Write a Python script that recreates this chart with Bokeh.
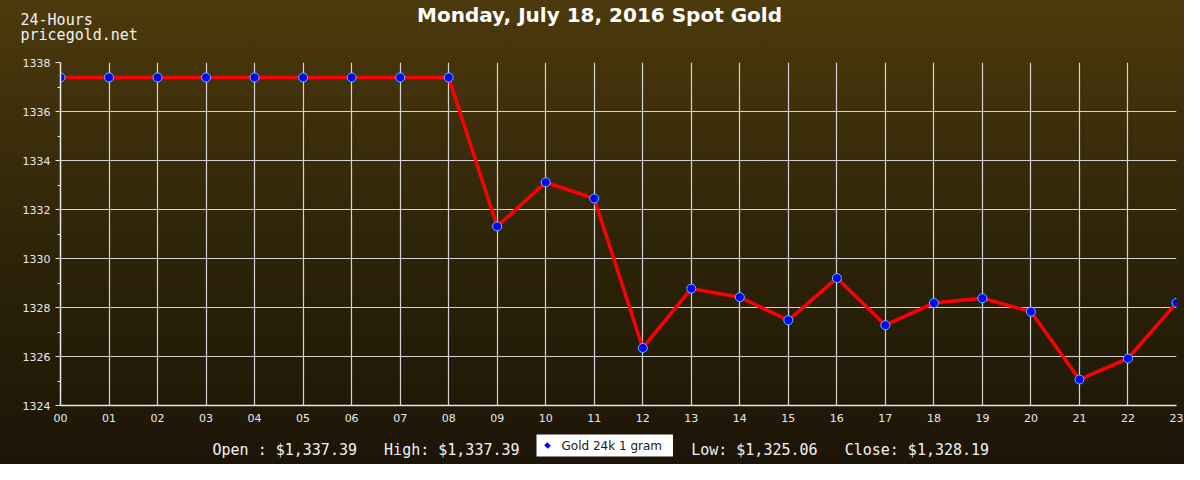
from bokeh.plotting import figure
from bokeh.models import Label, ColumnDataSource, FixedTicker
from bokeh.embed import file_html
from bokeh.resources import INLINE

hours = list(range(24))
hour_labels = ["%02d" % h for h in hours]
prices = [1337.39, 1337.39, 1337.39, 1337.39, 1337.39, 1337.39, 1337.39, 1337.39, 1337.39,
          1331.31, 1333.11, 1332.45, 1326.35, 1328.77, 1328.42, 1327.48, 1329.20, 1327.28,
          1328.18, 1328.38, 1327.83, 1325.06, 1325.92, 1328.19]
title_text = "Monday, July 18, 2016 Spot Gold"
corner_lines = ["24-Hours", "pricegold.net"]
stats = ["Open : $1,337.39", "High: $1,337.39", "Low: $1,325.06", "Close: $1,328.19"]
stat_gaps = [3, 19, 3]          # monospace character gaps between the stat texts
series_name = "Gold 24k 1 gram"
y_ticks = list(range(1324, 1339, 2))

TEXT = "#f2f2f2"
NBSP = "\u00a0"

src = ColumnDataSource(dict(x=hours, y=prices))
p = figure(width=1184, height=464,
           min_border_left=60, min_border_right=8, min_border_top=62, min_border_bottom=52,
           x_range=(0, 23), y_range=(1324, 1338),
           output_backend="svg", toolbar_location=None)
p.styles = {"background": "linear-gradient(#4d3a0d, #2f2509 50%, #1c1407)"}
p.border_fill_color = None
p.background_fill_color = None
p.outline_line_color = None

p.xaxis.ticker = FixedTicker(ticks=hours)
p.xaxis.major_label_overrides = {h: lab for h, lab in zip(hours, hour_labels)}
p.yaxis.ticker = FixedTicker(ticks=y_ticks, minor_ticks=[v + 1 for v in y_ticks[:-1]])
for ax in (p.xaxis[0], p.yaxis[0]):
    ax.axis_line_color = "#e8e8e8"
    ax.axis_line_width = 1.5
    ax.major_label_text_color = "#e8e8e8"
    ax.major_label_text_font = "DejaVu Sans"
    ax.major_label_text_font_size = "11px"
    ax.major_tick_line_color = "#e8e8e8"
    ax.minor_tick_line_color = "#e8e8e8"
p.xaxis.major_tick_out = 0
p.xaxis.major_tick_in = 0
p.xaxis.minor_tick_out = 0
p.xaxis.minor_tick_in = 0
p.xaxis.major_label_standoff = 8
p.yaxis.major_tick_out = 5
p.yaxis.major_tick_in = 0
p.yaxis.minor_tick_out = 3
p.yaxis.minor_tick_in = 0
p.yaxis.major_label_standoff = 5

p.xgrid.ticker = FixedTicker(ticks=hours)
p.ygrid.ticker = FixedTicker(ticks=y_ticks)
for g in (p.xgrid[0], p.ygrid[0]):
    g.grid_line_color = "#d4d4d4"
    g.grid_line_width = 1.2

p.line("x", "y", source=src, line_color="#ff0000", line_width=3.5)
p.scatter("x", "y", source=src, marker="circle", size=9, fill_color="#0000ff",
          line_color="#55c8ff", line_width=1)

# header texts (canvas pixel coordinates, top-left origin)
p.add_layout(Label(x=599, y=14, x_units="canvas", y_units="canvas", text=title_text,
                   text_align="center", text_baseline="middle", text_color="white",
                   text_font="DejaVu Sans", text_font_style="bold", text_font_size="20px"),
             "above")
for i, t in enumerate(corner_lines):
    p.add_layout(Label(x=20, y=19 + 15 * i, x_units="canvas", y_units="canvas", text=t,
                       text_align="left", text_baseline="middle", text_color=TEXT,
                       text_font="DejaVu Sans Mono", text_font_size="15px"), "above")

# footer: stats line (monospace, spaced with non-breaking spaces)
stat_line = stats[0]
for gap, t in zip(stat_gaps, stats[1:]):
    stat_line += NBSP * gap + t
p.add_layout(Label(x=212, y=449, x_units="canvas", y_units="canvas", text=stat_line,
                   text_align="left", text_baseline="middle", text_color=TEXT,
                   text_font="DejaVu Sans Mono", text_font_size="15px"), "below")

# legend box
p.add_layout(Label(x=536, y=445, x_units="canvas", y_units="canvas", text=series_name,
                   text_align="left", text_baseline="middle", text_color="#1a1a1a",
                   text_font="DejaVu Sans", text_font_size="12px",
                   background_fill_color="white", background_fill_alpha=1.0,
                   padding=dict(left=25, right=11, top=4, bottom=4)), "below")
p.add_layout(Label(x=547, y=445, x_units="canvas", y_units="canvas", text=" ",
                   text_align="center", text_baseline="middle", text_font_size="1px",
                   background_fill_color="#0000ff", padding=2, angle=45,
                   angle_units="deg"), "right")

open("out.html", "w").write(file_html(p, INLINE))
